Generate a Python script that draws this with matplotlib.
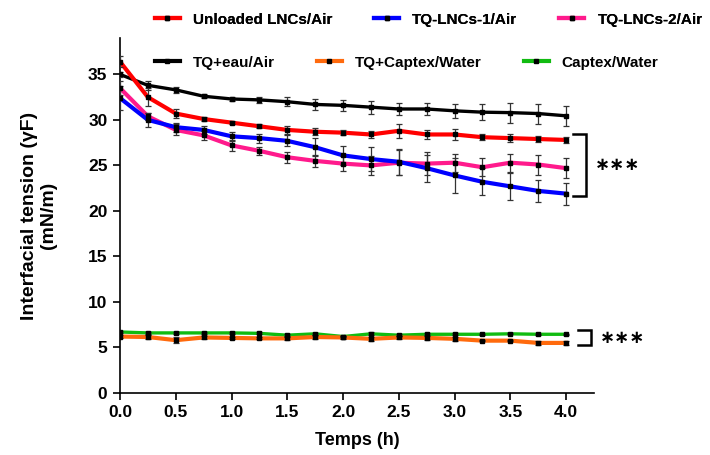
import matplotlib
matplotlib.use("Agg")
import matplotlib.pyplot as plt
import numpy as np
from matplotlib.lines import Line2D

plt.rcParams["font.family"] = ["Liberation Sans", "DejaVu Sans"]
plt.rcParams["font.weight"] = "bold"

time_h = [0.0, 0.25, 0.5, 0.75, 1.0, 1.25, 1.5, 1.75, 2.0, 2.25, 2.5, 2.75, 3.0, 3.25, 3.5, 3.75, 4.0]

tq_eau_air = [35.0, 33.8, 33.3, 32.6, 32.3, 32.2, 32.0, 31.7, 31.6, 31.4, 31.2, 31.2, 31.0, 30.85, 30.8, 30.7, 30.45]
tq_eau_air_err = [0.3, 0.5, 0.3, 0.2, 0.2, 0.3, 0.5, 0.6, 0.6, 0.7, 0.7, 0.7, 0.8, 0.9, 1.1, 1.1, 1.1]

unloaded_air = [36.4, 32.5, 30.7, 30.1, 29.7, 29.3, 28.9, 28.7, 28.6, 28.4, 28.8, 28.4, 28.4, 28.1, 28.0, 27.9, 27.8]
unloaded_air_err = [0.6, 1.0, 0.5, 0.2, 0.2, 0.2, 0.4, 0.4, 0.3, 0.4, 0.8, 0.5, 0.6, 0.3, 0.4, 0.35, 0.3]

tq_lncs1_air = [32.4, 30.0, 29.2, 28.9, 28.2, 28.0, 27.7, 27.0, 26.1, 25.7, 25.4, 24.7, 23.9, 23.2, 22.7, 22.2, 21.9]
tq_lncs1_air_err = [1.3, 0.8, 0.5, 0.4, 0.5, 0.5, 0.6, 1.0, 1.0, 1.3, 1.4, 1.5, 1.9, 1.5, 1.5, 1.2, 1.2]

tq_lncs2_air = [33.5, 30.4, 28.9, 28.3, 27.2, 26.6, 25.9, 25.5, 25.2, 25.0, 25.3, 25.2, 25.3, 24.8, 25.3, 25.1, 24.7]
tq_lncs2_air_err = [0.8, 0.4, 0.6, 0.5, 0.6, 0.4, 0.6, 0.7, 0.8, 1.0, 1.4, 1.3, 1.0, 1.0, 1.0, 1.1, 1.1]

tq_captex_water = [6.2, 6.15, 5.8, 6.1, 6.05, 6.0, 6.0, 6.15, 6.1, 5.95, 6.1, 6.05, 5.95, 5.75, 5.75, 5.5, 5.5]
tq_captex_water_err = [0.2, 0.2, 0.35, 0.15, 0.1, 0.1, 0.15, 0.2, 0.2, 0.25, 0.15, 0.2, 0.25, 0.05, 0.05, 0.2, 0.2]

captex_water = [6.7, 6.6, 6.6, 6.6, 6.6, 6.55, 6.35, 6.5, 6.2, 6.5, 6.35, 6.45, 6.45, 6.45, 6.5, 6.45, 6.45]
captex_water_err = [0.1, 0.1, 0.1, 0.1, 0.1, 0.1, 0.1, 0.1, 0.1, 0.15, 0.1, 0.1, 0.1, 0.05, 0.05, 0.05, 0.05]

series = [
    ("TQ+eau/Air", tq_eau_air, tq_eau_air_err, "#000000", 2.4),
    ("Unloaded LNCs/Air", unloaded_air, unloaded_air_err, "#ff0000", 3.0),
    ("TQ-LNCs-2/Air", tq_lncs2_air, tq_lncs2_air_err, "#ff1a8c", 3.0),
    ("TQ-LNCs-1/Air", tq_lncs1_air, tq_lncs1_air_err, "#0000ff", 3.0),
    ("Captex/Water", captex_water, captex_water_err, "#11bb11", 2.4),
    ("TQ+Captex/Water", tq_captex_water, tq_captex_water_err, "#ff6a0d", 3.0),
]

fig = plt.figure(figsize=(7.1, 4.55), dpi=100)
ax = fig.add_axes([0.169, 0.1363, 0.6676, 0.7802])

handles = {}
for label, vals, errs, color, lw in series:
    ax.plot(time_h, vals, color=color, linewidth=lw, solid_joinstyle="round", zorder=2)
    ax.errorbar(time_h, vals, yerr=errs, fmt="s", color="black", ecolor="#333333",
                markersize=2.2, elinewidth=0.9, capsize=2.5, capthick=0.9, zorder=3)
    handles[label] = Line2D([], [], color=color, linewidth=3.0, marker="s",
                            markersize=2.2, markerfacecolor="black", markeredgecolor="black")

ax.set_xlim(0, 4.25)
ax.set_ylim(0, 39)
ax.set_xticks(np.arange(0, 4.01, 0.5))
ax.set_yticks(np.arange(0, 36, 5))
ax.xaxis.set_major_formatter(matplotlib.ticker.FormatStrFormatter("%.1f"))
for side in ["top", "right"]:
    ax.spines[side].set_visible(False)
for side in ["left", "bottom"]:
    ax.spines[side].set_linewidth(1.2)
ax.tick_params(axis="both", labelsize=12.5, width=1.2, length=5, pad=4)
for t in ax.get_xticklabels() + ax.get_yticklabels():
    t.set_fontweight("bold")

ax.set_xlabel("Temps (h)", fontsize=13, fontweight="bold", labelpad=8)
ax.set_ylabel("Interfacial tension (γF)\n(mN/m)", fontsize=14, fontweight="bold",
              labelpad=22, linespacing=1.15)

# significance brackets (span the final values of the compared series)
brackets = [
    (unloaded_air[-1] + 0.6, tq_lncs1_air[-1] - 0.3, 4.065, 4.18),
    (captex_water[-1] + 0.45, tq_captex_water[-1] - 0.25, 4.11, 4.22),
]
for top, bottom, bx0, bx1 in brackets:
    ax.plot([bx0, bx1, bx1, bx0], [top, top, bottom, bottom], color="black", linewidth=1.8,
            clip_on=False, solid_joinstyle="miter")
    ax.text(bx1 + 0.08, (top + bottom) / 2, "∗∗∗", fontsize=13, fontweight="bold",
            family="DejaVu Sans", va="center", ha="left", clip_on=False)

row1 = ["Unloaded LNCs/Air", "TQ-LNCs-1/Air", "TQ-LNCs-2/Air"]
row2 = ["TQ+eau/Air", "TQ+Captex/Water", "Captex/Water"]
legend_kw = dict(ncol=3, frameon=False, loc="center left",
                 prop={"weight": "bold", "size": 11}, handlelength=1.64,
                 handletextpad=0.85, columnspacing=2.75, borderaxespad=0, borderpad=0)
leg1 = fig.legend([handles[k] for k in row1], row1, bbox_to_anchor=(0.218, 0.957), **legend_kw)
leg2 = fig.legend([handles[k] for k in row2], row2, bbox_to_anchor=(0.218, 0.862), **legend_kw)
fig.add_artist(leg1)

fig.savefig("out.png", dpi=100)
